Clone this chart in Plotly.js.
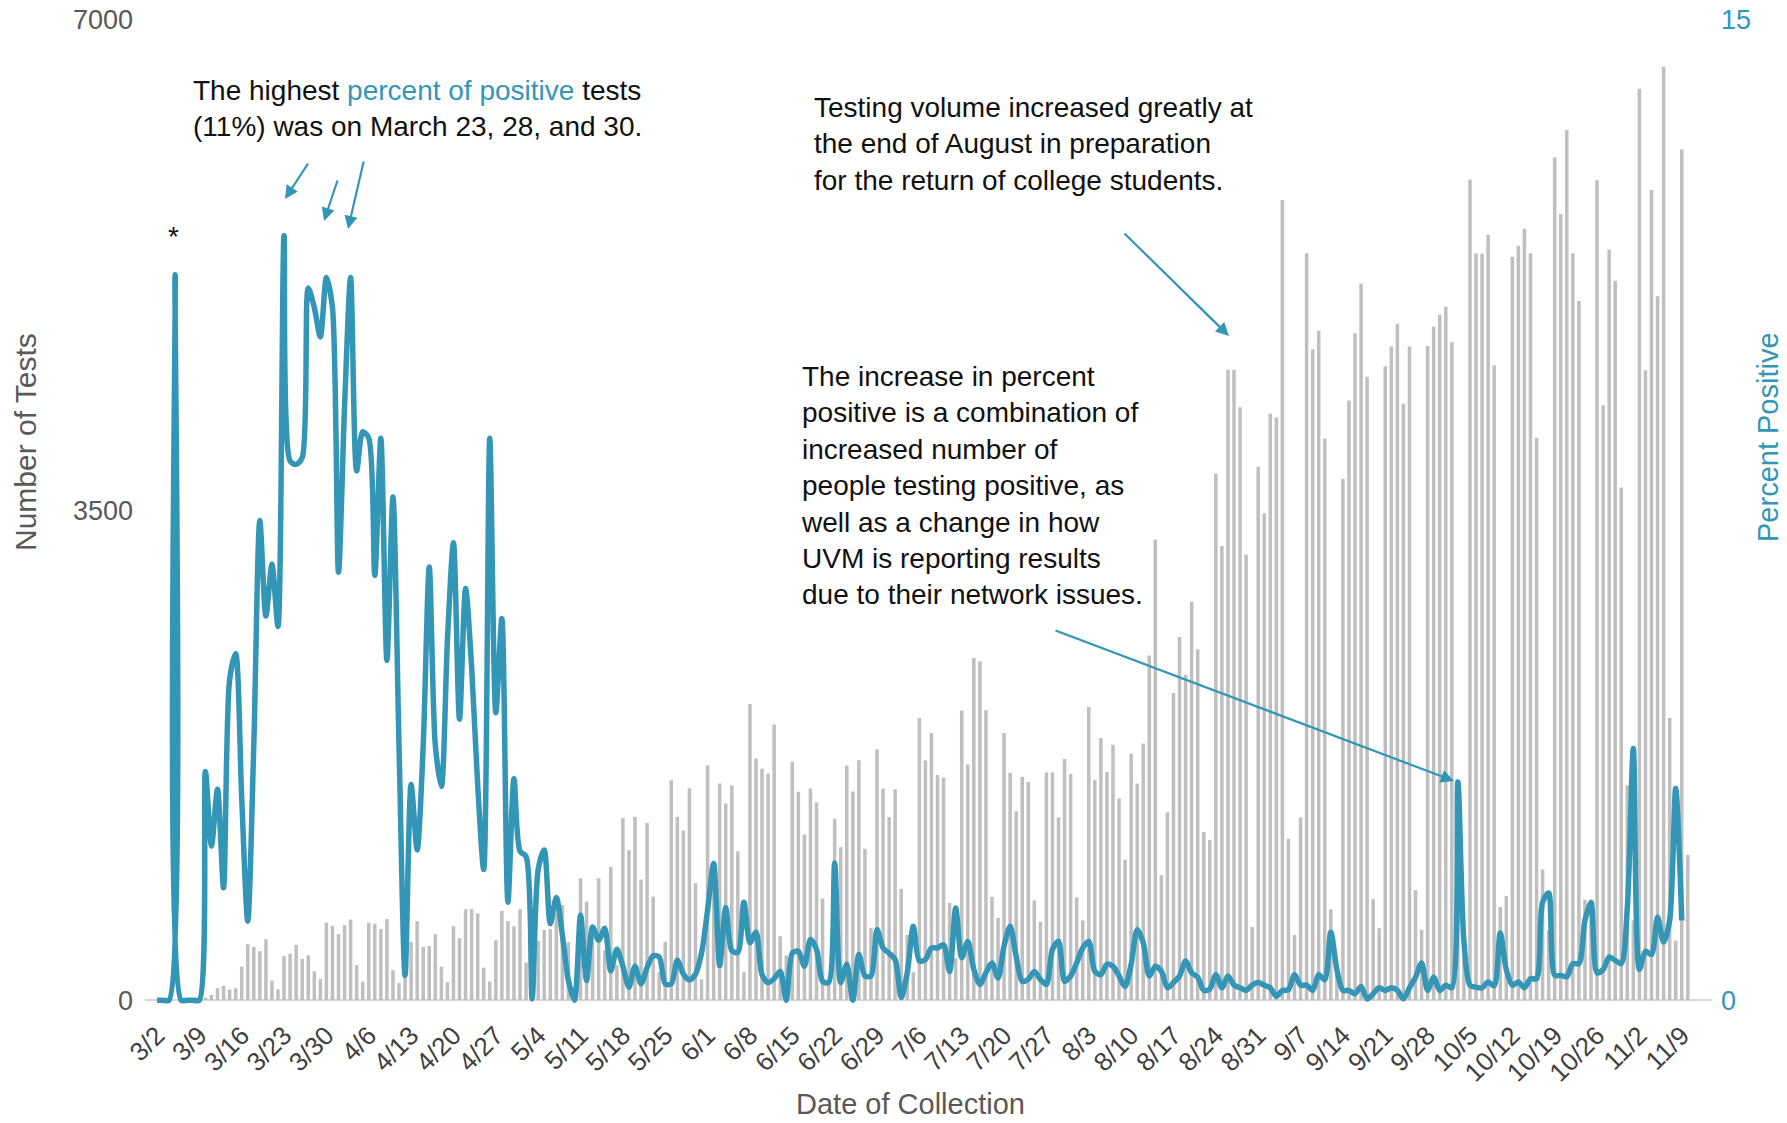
<!DOCTYPE html>
<html>
<head>
<meta charset="utf-8">
<script src="https://cdn.plot.ly/plotly-3.0.1.min.js"></script>
<style>html,body{margin:0;padding:0;background:#fff;}#chart{width:1787px;height:1123px;}</style>
</head>
<body>
<div id="chart"></div>
<script>
// First collection date; one value per day after it
const startDate = '2020-03-02';

// Number of tests per day (from 3/2, one row per week Mon..Sun)
const tests = [
  0,0,0,0,0,0,0,
  0,18,37,85,103,77,85,
  240,400,380,350,435,140,77,
  314,332,395,295,321,207,151,
  553,531,472,535,576,251,133,
  553,546,509,579,214,122,177,
  417,565,380,387,472,240,129,
  528,443,650,650,620,232,133,
  428,638,565,528,650,269,120,
  424,502,509,620,680,415,100,
  870,704,509,870,357,952,250,
  1300,1071,1310,862,1266,740,200,
  417,1570,1310,1212,1513,836,150,
  1676,900,1547,1404,1534,1064,200,
  2116,1726,1654,1619,1969,457,319,
  1702,1488,1183,1511,1411,726,150,
  1295,1093,1675,1490,1714,1081,516,
  1790,1511,1307,1507,795,467,200,
  2016,1712,1909,1609,1590,695,300,
  2068,1683,2444,2420,2071,738,588,
  1909,1623,1349,1595,1559,712,559,
  1626,1626,1307,1723,1616,735,569,
  2094,1571,1873,1630,1825,1440,1004,
  1761,1547,1833,2461,3290,892,1342,
  2194,2594,2325,2846,2506,1202,1145,
  3761,3243,4502,4502,4234,3183,522,
  3810,3478,4188,4162,5715,1153,465,
  1304,5334,4649,4782,4011,650,200,
  3723,4283,4763,5118,4453,722,514,
  4528,4668,4831,4260,4668,786,503,
  4672,4812,4895,4952,4699,919,300,
  5860,5332,5330,5466,4533,666,745,
  5309,5387,5510,5335,4016,933,500,
  6018,5615,6215,5335,4993,718,700,
  5856,4249,5361,5138,3662,1533,570,
  6509,4498,5786,5028,6666,2015,425,
  6075,1038
];

// Percent positive per day (from 3/2)
const percentPositive = [
  0,0,0,11.1,0,0,0,
  0,3.5,2.36,3.23,1.72,4.9,5.3,
  3.1,1.21,3.9,7.34,5.88,6.67,5.72,
  11.7,8.25,8.2,8.3,10.9,10.6,10.15,
  11.06,10.6,6.55,9.08,11.06,8.1,8.7,
  8.6,6.5,8.6,5.2,7.7,3.9,0.38,
  3.3,2.3,3.9,6.63,3.9,3.27,5.5,
  7.0,4.3,6.3,5.1,3.3,2.0,8.6,
  4.4,5.84,1.5,3.39,2.28,2.2,0.02,
  2.0,2.3,1.17,1.57,1.0,0.3,0.0,
  1.3,0.3,1.12,0.92,1.1,0.45,0.78,
  0.52,0.2,0.52,0.25,0.5,0.68,0.66,
  0.25,0.25,0.61,0.4,0.31,0.4,0.72,
  1.38,2.09,0.53,1.42,0.76,0.73,1.5,
  0.88,1.04,0.39,0.27,0.33,0.44,0.0,
  0.72,0.75,0.52,0.93,0.78,0.29,0.27,
  2.1,0.27,0.55,0.0,0.7,0.37,0.37,
  1.08,0.8,0.72,0.62,0.04,0.42,1.13,
  0.6,0.62,0.8,0.8,0.85,0.44,1.41,
  0.65,0.9,0.47,0.24,0.42,0.57,0.34,
  0.83,1.13,0.67,0.29,0.32,0.44,0.32,
  0.24,0.78,0.9,0.29,0.37,0.57,0.8,
  0.9,0.44,0.39,0.55,0.52,0.37,0.21,
  0.55,1.08,0.88,0.37,0.52,0.44,0.19,
  0.27,0.37,0.6,0.42,0.35,0.15,0.17,
  0.39,0.19,0.37,0.23,0.19,0.15,0.23,
  0.27,0.23,0.19,0.06,0.15,0.16,0.39,
  0.23,0.23,0.15,0.39,0.31,1.04,0.47,
  0.15,0.15,0.1,0.21,0.02,0.1,0.19,
  0.15,0.19,0.15,0.02,0.19,0.35,0.57,
  0.15,0.35,0.15,0.23,0.19,3.34,0.9,
  0.23,0.2,0.19,0.28,0.22,1.03,0.47,
  0.23,0.28,0.19,0.33,0.33,1.5,1.64,
  0.38,0.38,0.36,0.56,0.56,1.22,1.5,
  0.42,0.47,0.66,0.61,0.56,1.41,3.85,
  0.47,0.75,0.7,1.27,0.89,1.22,3.24,
  1.22
];

const leftTicks = [0, 3500, 7000];
const rightTicks = [0, 15];

const DAY = 864e5;
const t0 = Date.parse(startDate + 'T00:00:00Z');
function dayStr(ms){ return new Date(ms).toISOString().replace('T',' ').replace('Z','').slice(0,19); }
const datesTests = tests.map((_, i) => dayStr(t0 + i*DAY).slice(0,10));
const datesPct = percentPositive.map((_, i) => dayStr(t0 + i*DAY).slice(0,10));

const TEAL = '#3396b7';
const FONT = 'Liberation Sans, Arial, sans-serif';

// layout geometry (pixels)
const L = 145, R = 75, T = 20, B = 106;
const W = 1787, H = 1123;
const pw = W - L - R, ph = H - T - B;
const pxX = px => (px - L) / pw;
const pxY = py => (H - B - py) / ph;

const xStart = dayStr(t0 - 1.98*DAY);
const xEnd = dayStr(t0 + 257.0*DAY);

const traces = [
  {
    type: 'bar', x: datesTests, y: tests, yaxis: 'y',
    marker: {color: '#bfbfbf'}, hoverinfo: 'skip', name: 'Number of Tests'
  },
  {
    type: 'scatter', mode: 'lines', x: datesPct, y: percentPositive, yaxis: 'y2',
    line: {color: TEAL, width: 5.5, shape: 'spline', smoothing: 0.8},
    hoverinfo: 'skip', name: 'Percent Positive'
  }
];

function arrow(hx, hy, tx, ty){
  return {xref:'paper', yref:'paper', x: pxX(hx), y: pxY(hy), ax: tx-hx, ay: ty-hy,
    text:'', showarrow:true, arrowhead:2, arrowsize:1.2, arrowwidth:2.2, arrowcolor:TEAL,
    standoff:0, startstandoff:0};
}
function label(text, px, py, opts){
  return Object.assign({xref:'paper', yref:'paper', x: pxX(px), y: pxY(py), text: text,
    showarrow:false, xanchor:'left', yanchor:'middle', align:'left', borderpad:0,
    font:{family:FONT, size:28, color:'#111'}}, opts||{});
}

const annotations = [
  label('The highest <span style="color:' + TEAL + '">percent of positive</span> tests<br>(11%) was on March 23, 28, and 30.', 192, 109),
  label('Testing volume increased greatly at<br>the end of August in preparation<br>for the return of college students.', 813, 144),
  label('The increase in percent<br>positive is a combination of<br>increased number of<br>people testing positive, as<br>well as a change in how<br>UVM is reporting results<br>due to their network issues.', 800, 485),
  label('*', 173, 236, {xanchor:'center', font:{family:FONT, size:28, color:'#111'}}),
  label('Number of Tests', 25, 442, {xanchor:'center', textangle:-90, font:{family:FONT, size:30, color:'#595959'}}),
  label('Percent Positive', 1768, 437, {xanchor:'center', textangle:-90, font:{family:FONT, size:29, color:TEAL}}),
  label('Date of Collection', 910, 1104, {xanchor:'center', font:{family:FONT, size:29, color:'#595959'}}),
  arrow(285, 199, 309, 162),
  arrow(324, 221, 338, 179),
  arrow(348, 229, 364, 160),
  arrow(1229, 336, 1123, 232),
  arrow(1454, 781, 1054, 630)
];

const layout = {
  width: W, height: H,
  margin: {l: L, r: R, t: T, b: B, pad: 0},
  paper_bgcolor: '#fff', plot_bgcolor: '#fff',
  showlegend: false,
  bargap: 0.42,
  font: {family: FONT},
  xaxis: {
    type: 'date', range: [xStart, xEnd],
    tick0: startDate, dtick: 7*DAY, tickformat: '%-m/%-d',
    tickangle: -45, ticks: '', showgrid: false, zeroline: false, showline: false,
    tickfont: {family: FONT, size: 26, color: '#404040'},
    ticklabelstandoff: -3, fixedrange: true
  },
  yaxis: {
    range: [-120, 7000], tickvals: leftTicks, ticktext: leftTicks.map(String),
    showgrid: false, zeroline: true, zerolinecolor: '#d9d9d9', zerolinewidth: 2,
    showline: false, ticks: '', ticklabelstandoff: 11,
    tickfont: {family: FONT, size: 27, color: '#595959'}, fixedrange: true
  },
  yaxis2: {
    overlaying: 'y', side: 'right', range: [-120/7000*15, 15],
    tickvals: rightTicks, ticktext: rightTicks.map(String),
    showgrid: false, zeroline: false, showline: false, ticks: '', ticklabelstandoff: 8,
    tickfont: {family: FONT, size: 27, color: TEAL}, fixedrange: true
  },
  annotations: annotations
};

Plotly.newPlot('chart', traces, layout, {displayModeBar: false, staticPlot: true});
</script>
</body>
</html>
